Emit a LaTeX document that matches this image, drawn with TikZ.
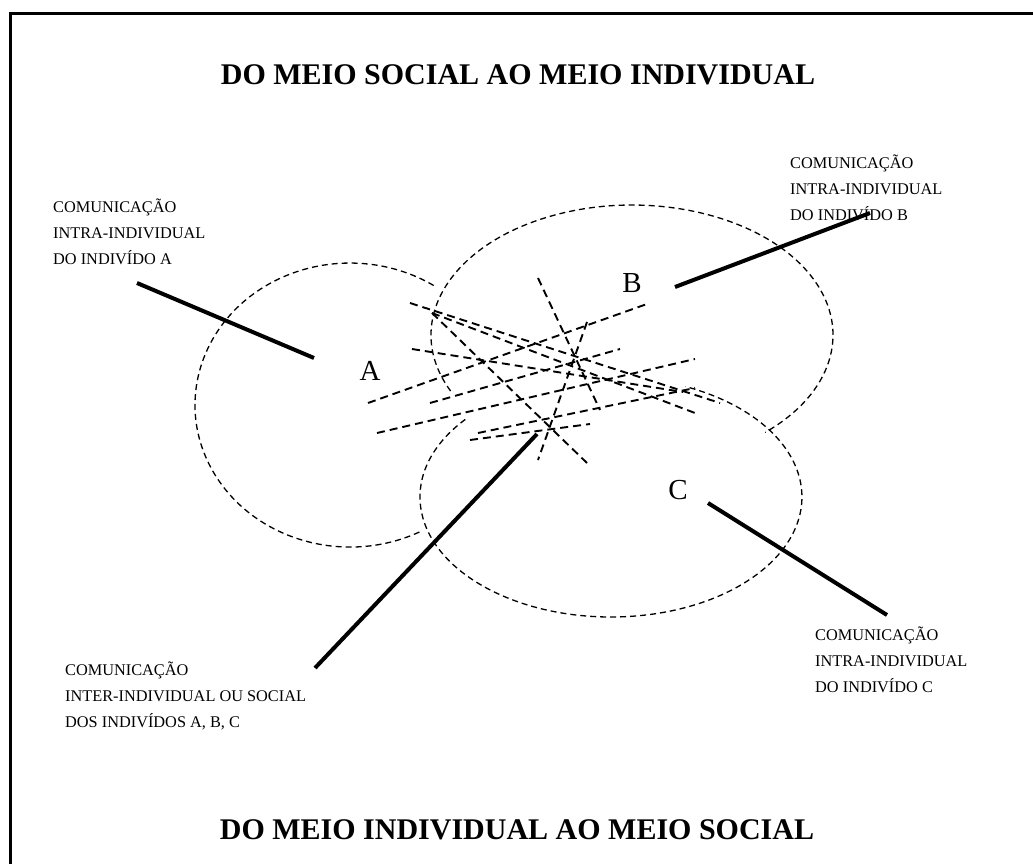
\documentclass[tikz,border=0pt]{standalone}
\usepackage{fontspec}
\setmainfont{Liberation Serif}
\begin{document}
\begin{tikzpicture}[x=1pt,y=-1pt,
  lbl/.style={align=left, anchor=north west, inner sep=0pt, font=\fontsize{16.3}{26}\selectfont},
  ttl/.style={font=\fontsize{30}{32}\selectfont\bfseries, inner sep=0pt},
  letter/.style={font=\fontsize{29}{30}\selectfont, inner sep=0pt},
  pointer/.style={line width=4pt},
  ring/.style={dash pattern=on 6pt off 4pt, line width=1.3pt},
  ray/.style={dash pattern=on 8pt off 5pt, line width=1.9pt},
  frame/.style={line width=3pt}]
\useasboundingbox (0,0) rectangle (1033,864);
% frame
\coordinate (fbl) at (10.5,870);
\coordinate (ftl) at (10.5,13.5);
\coordinate (ftr) at (1040,13.5);
\draw[frame] (fbl) -- (ftl) -- (ftr);
% titles
\node[ttl] (t1) at (518,75) {DO MEIO SOCIAL AO MEIO INDIVIDUAL};
\node[ttl] (t2) at (517,830) {DO MEIO INDIVIDUAL AO MEIO SOCIAL};
% ellipses
\draw[ring] (419.4,532) arc[start angle=63.4, end angle=303.5, x radius=155, y radius=142];
\draw[ring] (450.6,391) arc[start angle=154.5, end angle=408.5, x radius=201, y radius=130];
\draw[ring] (465.3,419.4) arc[start angle=220.3, end angle=-67, x radius=191, y radius=120];
% rays
\draw[ray] (410,303) -- (720,403);
\draw[ray] (432,313) -- (695,413);
\draw[ray] (412,349) -- (683,392);
\draw[ray] (368,403) -- (647,304);
\draw[ray] (377,433) -- (695,359);
\draw[ray] (430,403) -- (620,349);
\draw[ray] (478,433) -- (695,388);
\draw[ray] (470,440) -- (590,424);
\draw[ray] (538,278) -- (600,410);
\draw[ray] (587,322) -- (538,460);
\draw[ray] (432,313) -- (587,463);
% letters
\node[letter] (A) at (370,371) {A};
\node[letter] (B) at (632,283) {B};
\node[letter] (C) at (678,490) {C};
% labels
\node[lbl] (la) at (53,199) {COMUNICAÇÃO\\INTRA-INDIVIDUAL\\DO INDIVÍDO A};
\node[lbl] (lb) at (790,155) {COMUNICAÇÃO\\INTRA-INDIVIDUAL\\DO INDIVÍDO B};
\node[lbl] (lc) at (815,627) {COMUNICAÇÃO\\INTRA-INDIVIDUAL\\DO INDIVÍDO C};
\node[lbl] (ls) at (65,662) {COMUNICAÇÃO\\INTER-INDIVIDUAL OU SOCIAL\\DOS INDIVÍDOS A, B, C};
% pointers
\coordinate (pa1) at (137,283); \coordinate (pa2) at (314,358);
\coordinate (pb1) at (870,213); \coordinate (pb2) at (675,287);
\coordinate (pc1) at (708,503); \coordinate (pc2) at (887,615);
\coordinate (ps1) at (315,668); \coordinate (ps2) at (537,434);
\draw[pointer] (pa1) -- (pa2);
\draw[pointer] (pb1) -- (pb2);
\draw[pointer] (pc1) -- (pc2);
\draw[pointer] (ps1) -- (ps2);
\end{tikzpicture}
\end{document}
